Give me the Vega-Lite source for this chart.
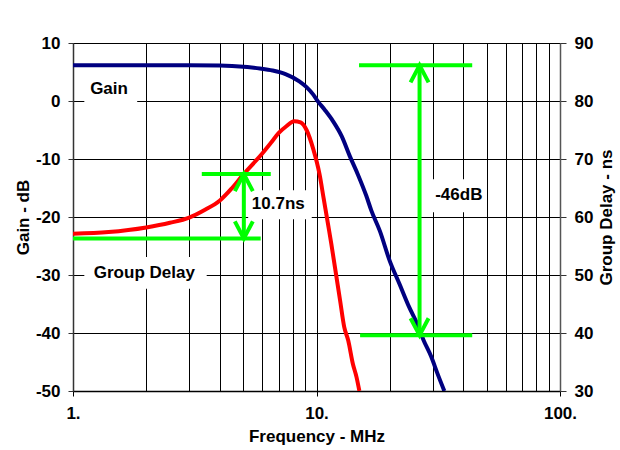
{
  "$schema": "https://vega.github.io/schema/vega-lite/v6.json",
  "width": 487,
  "height": 348,
  "autosize": "none",
  "padding": {"left": 73, "top": 43, "right": 60, "bottom": 59},
  "background": "white",
  "config": {
    "font": "Liberation Sans",
    "view": {"stroke": null},
    "axis": {
      "labelFontSize": 17,
      "labelFontWeight": "bold",
      "labelColor": "#000",
      "titleFontSize": 17,
      "titleFontWeight": "bold",
      "titleColor": "#000",
      "gridColor": "#000",
      "gridOpacity": 1,
      "gridWidth": 1,
      "tickColor": "#333",
      "domainColor": "#333",
      "domainWidth": 1.5
    }
  },
  "datasets": {
    "gain": [
      {"f": 1, "g": 6.15}, {"f": 2, "g": 6.15}, {"f": 3, "g": 6.15}, {"f": 4, "g": 6.12},
      {"f": 4.5, "g": 6.05}, {"f": 5.2, "g": 5.85}, {"f": 5.85, "g": 5.6}, {"f": 6.6, "g": 5.25},
      {"f": 7.5, "g": 4.6}, {"f": 8.5, "g": 3.4}, {"f": 9.1, "g": 2.4}, {"f": 9.7, "g": 1.1},
      {"f": 10.15, "g": -0.1}, {"f": 10.8, "g": -1.5}, {"f": 11.7, "g": -3.5}, {"f": 12.7, "g": -6.1},
      {"f": 13.7, "g": -9.5}, {"f": 14.8, "g": -12.7}, {"f": 16.0, "g": -16.3}, {"f": 16.8, "g": -18.9},
      {"f": 18.2, "g": -22.4}, {"f": 20.0, "g": -27.6}, {"f": 21.9, "g": -31.5}, {"f": 24.0, "g": -35.5},
      {"f": 26.1, "g": -38.7}, {"f": 27.5, "g": -41.2}, {"f": 29.6, "g": -44.1}, {"f": 31.4, "g": -47.0},
      {"f": 33.5, "g": -50.0}
    ],
    "delay": [
      {"f": 1, "d": 57.1}, {"f": 1.4, "d": 57.4}, {"f": 2, "d": 58.2}, {"f": 2.5, "d": 59.0},
      {"f": 3, "d": 59.9}, {"f": 3.5, "d": 61.3}, {"f": 4, "d": 62.8}, {"f": 4.5, "d": 65.0},
      {"f": 5, "d": 67.3}, {"f": 5.5, "d": 69.2}, {"f": 6, "d": 71.0}, {"f": 6.5, "d": 72.8},
      {"f": 7, "d": 74.5}, {"f": 7.5, "d": 75.6}, {"f": 8.1, "d": 76.5}, {"f": 8.6, "d": 76.3},
      {"f": 9.1, "d": 75.0}, {"f": 9.7, "d": 71.7}, {"f": 10.3, "d": 67.3}, {"f": 10.7, "d": 63.2},
      {"f": 11.2, "d": 58.3}, {"f": 11.5, "d": 55.4}, {"f": 11.9, "d": 51.4}, {"f": 12.5, "d": 45.6},
      {"f": 13.0, "d": 41.0}, {"f": 13.5, "d": 38.7}, {"f": 14.1, "d": 34.7}, {"f": 14.6, "d": 32.4},
      {"f": 15.0, "d": 30.0}
    ],
    "gainLevels": [
      {"f1": 14.95, "f2": 43.6, "g": 6.15},
      {"f1": 15.1, "f2": 43.6, "g": -40.4}
    ],
    "gainArrow": [{"f": 26.5, "lo": -40.4, "hi": 6.15}],
    "gainBoxes": [
      {"f1": 1.113, "f2": 1.835, "g1": 4.4, "g2": -0.4},
      {"f1": 28.1, "f2": 49.0, "g1": -13.5, "g2": -19.2}
    ],
    "gainText": [
      {"f": 1.406, "g": 1.28, "label": "Gain"},
      {"f": 38.4, "g": -17.1, "label": "-46dB"}
    ],
    "delayLevels": [
      {"f1": 1, "f2": 5.9, "d": 56.3},
      {"f1": 3.38, "f2": 6.49, "d": 67.4}
    ],
    "delayArrow": [{"f": 5.03, "lo": 56.3, "hi": 67.4}],
    "delayBoxes": [
      {"f1": 1.113, "f2": 3.54, "d1": 53.1, "d2": 47.65},
      {"f1": 5.24, "f2": 9.56, "d1": 64.6, "d2": 59.6}
    ],
    "delayText": [
      {"f": 1.963, "d": 49.55, "label": "Group Delay"},
      {"f": 6.97, "d": 61.3, "label": "10.7ns"}
    ]
  },
  "layer": [
    {
      "layer": [
        {
          "data": {"name": "gain"},
          "mark": {"type": "line", "color": "#000080", "strokeWidth": 4, "interpolate": "monotone", "clip": true},
          "encoding": {
            "x": {
              "field": "f", "type": "quantitative", "title": "Frequency - MHz",
              "scale": {"type": "log", "domain": [1, 100]},
              "axis": {
                "values": [1, 2, 3, 4, 5, 6, 7, 8, 9, 10, 20, 30, 40, 50, 60, 70, 80, 90, 100],
                "labelExpr": "datum.value == 1 ? '1.' : datum.value == 10 ? '10.' : datum.value == 100 ? '100.' : ''",
                "labelOverlap": false,
                "labelFlush": false,
                "grid": true,
                "tickSize": 5,
                "tickColor": {"condition": {"test": "datum.value == 1 || datum.value == 10 || datum.value == 100", "value": "#000"}, "value": "transparent"},
                "domainColor": "#000",
                "labelPadding": 9,
                "titlePadding": 7
              }
            },
            "y": {
              "field": "g", "type": "quantitative", "title": "Gain - dB",
              "scale": {"domain": [-50, 10]},
              "axis": {
                "orient": "left",
                "values": [-50, -40, -30, -20, -10, 0, 10],
                "labelExpr": "replace(datum.label, '\u2212', '-')",
                "grid": true,
                "tickSize": 5,
                "labelPadding": 8,
                "titlePadding": 3
              }
            }
          }
        },
        {
          "data": {"name": "gainBoxes"},
          "mark": {"type": "rect", "fill": "white", "stroke": null},
          "encoding": {
            "x": {"field": "f1", "type": "quantitative", "title": "Frequency - MHz", "scale": {"type": "log", "domain": [1, 100]}},
            "x2": {"field": "f2"},
            "y": {"field": "g1", "type": "quantitative", "title": "Gain - dB", "scale": {"domain": [-50, 10]}},
            "y2": {"field": "g2"}
          }
        },
        {
          "data": {"name": "gainLevels"},
          "mark": {"type": "rule", "color": "#00ff00", "strokeWidth": 4},
          "encoding": {
            "x": {"field": "f1", "type": "quantitative", "title": "Frequency - MHz", "scale": {"type": "log", "domain": [1, 100]}},
            "x2": {"field": "f2"},
            "y": {"field": "g", "type": "quantitative", "title": "Gain - dB", "scale": {"domain": [-50, 10]}}
          }
        },
        {
          "data": {"name": "gainArrow"},
          "mark": {"type": "rule", "color": "#00ff00", "strokeWidth": 4},
          "encoding": {
            "x": {"field": "f", "type": "quantitative", "title": "Frequency - MHz", "scale": {"type": "log", "domain": [1, 100]}},
            "y": {"field": "lo", "type": "quantitative", "title": "Gain - dB", "scale": {"domain": [-50, 10]}},
            "y2": {"field": "hi"}
          }
        },
        {
          "data": {"name": "gainArrow"},
          "mark": {"type": "point", "shape": "M-0.5,0.95L0,0L0.5,0.95", "size": 1296, "filled": false, "stroke": "#00ff00", "strokeWidth": 4, "opacity": 1},
          "encoding": {
            "x": {"field": "f", "type": "quantitative", "title": "Frequency - MHz", "scale": {"type": "log", "domain": [1, 100]}},
            "y": {"field": "hi", "type": "quantitative", "title": "Gain - dB", "scale": {"domain": [-50, 10]}}
          }
        },
        {
          "data": {"name": "gainArrow"},
          "mark": {"type": "point", "shape": "M-0.5,-0.95L0,0L0.5,-0.95", "size": 1296, "filled": false, "stroke": "#00ff00", "strokeWidth": 4, "opacity": 1},
          "encoding": {
            "x": {"field": "f", "type": "quantitative", "title": "Frequency - MHz", "scale": {"type": "log", "domain": [1, 100]}},
            "y": {"field": "lo", "type": "quantitative", "title": "Gain - dB", "scale": {"domain": [-50, 10]}}
          }
        },
        {
          "data": {"name": "gainText"},
          "mark": {"type": "text", "fontSize": 17, "fontWeight": "bold", "color": "#000", "align": "center", "baseline": "alphabetic"},
          "encoding": {
            "x": {"field": "f", "type": "quantitative", "title": "Frequency - MHz", "scale": {"type": "log", "domain": [1, 100]}},
            "y": {"field": "g", "type": "quantitative", "title": "Gain - dB", "scale": {"domain": [-50, 10]}},
            "text": {"field": "label"}
          }
        }
      ]
    },
    {
      "layer": [
        {
          "data": {"name": "delay"},
          "mark": {"type": "line", "color": "#ff0000", "strokeWidth": 4, "interpolate": "monotone", "clip": true},
          "encoding": {
            "x": {"field": "f", "type": "quantitative", "title": "Frequency - MHz", "scale": {"type": "log", "domain": [1, 100]}},
            "y": {
              "field": "d", "type": "quantitative", "title": "Group Delay - ns",
              "scale": {"domain": [30, 90]},
              "axis": {
                "orient": "right",
                "values": [30, 40, 50, 60, 70, 80, 90],
                "grid": false,
                "tickSize": 6,
                "labelPadding": 8,
                "titlePadding": 6,
                "titleAngle": 270,
                "titleBaseline": "top",
                "domainColor": "#555"
              }
            }
          }
        },
        {
          "data": {"name": "delayBoxes"},
          "mark": {"type": "rect", "fill": "white", "stroke": null},
          "encoding": {
            "x": {"field": "f1", "type": "quantitative", "title": "Frequency - MHz", "scale": {"type": "log", "domain": [1, 100]}},
            "x2": {"field": "f2"},
            "y": {"field": "d1", "type": "quantitative", "title": "Group Delay - ns", "scale": {"domain": [30, 90]}},
            "y2": {"field": "d2"}
          }
        },
        {
          "data": {"name": "delayLevels"},
          "mark": {"type": "rule", "color": "#00ff00", "strokeWidth": 4},
          "encoding": {
            "x": {"field": "f1", "type": "quantitative", "title": "Frequency - MHz", "scale": {"type": "log", "domain": [1, 100]}},
            "x2": {"field": "f2"},
            "y": {"field": "d", "type": "quantitative", "title": "Group Delay - ns", "scale": {"domain": [30, 90]}}
          }
        },
        {
          "data": {"name": "delayArrow"},
          "mark": {"type": "rule", "color": "#00ff00", "strokeWidth": 4},
          "encoding": {
            "x": {"field": "f", "type": "quantitative", "title": "Frequency - MHz", "scale": {"type": "log", "domain": [1, 100]}},
            "y": {"field": "lo", "type": "quantitative", "title": "Group Delay - ns", "scale": {"domain": [30, 90]}},
            "y2": {"field": "hi"}
          }
        },
        {
          "data": {"name": "delayArrow"},
          "mark": {"type": "point", "shape": "M-0.5,0.95L0,0L0.5,0.95", "size": 1296, "filled": false, "stroke": "#00ff00", "strokeWidth": 4, "opacity": 1},
          "encoding": {
            "x": {"field": "f", "type": "quantitative", "title": "Frequency - MHz", "scale": {"type": "log", "domain": [1, 100]}},
            "y": {"field": "hi", "type": "quantitative", "title": "Group Delay - ns", "scale": {"domain": [30, 90]}}
          }
        },
        {
          "data": {"name": "delayArrow"},
          "mark": {"type": "point", "shape": "M-0.5,-0.95L0,0L0.5,-0.95", "size": 1296, "filled": false, "stroke": "#00ff00", "strokeWidth": 4, "opacity": 1},
          "encoding": {
            "x": {"field": "f", "type": "quantitative", "title": "Frequency - MHz", "scale": {"type": "log", "domain": [1, 100]}},
            "y": {"field": "lo", "type": "quantitative", "title": "Group Delay - ns", "scale": {"domain": [30, 90]}}
          }
        },
        {
          "data": {"name": "delayText"},
          "mark": {"type": "text", "fontSize": 17, "fontWeight": "bold", "color": "#000", "align": "center", "baseline": "alphabetic"},
          "encoding": {
            "x": {"field": "f", "type": "quantitative", "title": "Frequency - MHz", "scale": {"type": "log", "domain": [1, 100]}},
            "y": {"field": "d", "type": "quantitative", "title": "Group Delay - ns", "scale": {"domain": [30, 90]}},
            "text": {"field": "label"}
          }
        }
      ]
    }
  ],
  "resolve": {"scale": {"y": "independent"}}
}
